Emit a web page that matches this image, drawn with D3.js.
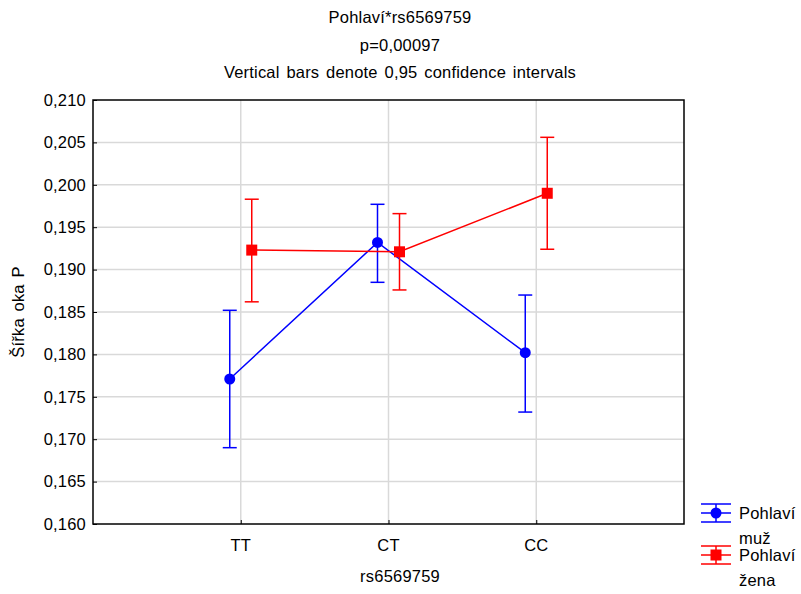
<!DOCTYPE html>
<html><head><meta charset="utf-8">
<script src="https://cdn.jsdelivr.net/npm/d3@7"></script>
<style>body{margin:0;background:#fff}text{font-family:"Liberation Sans",Arial,sans-serif;letter-spacing:0.2px;word-spacing:2px}</style>
</head><body><svg id="c" width="801" height="594"></svg>
<script>
const categories = ["TT","CT","CC"];
const seriesNames = ["Pohlaví muž","Pohlaví žena"];
const muzMean = [0.1771, 0.1932, 0.1802];
const muzLow  = [0.1690, 0.1885, 0.1732];
const muzHigh = [0.1852, 0.1977, 0.1870];
const zenaMean = [0.1923, 0.1921, 0.1990];
const zenaLow  = [0.1862, 0.1876, 0.1924];
const zenaHigh = [0.1983, 0.1966, 0.2056];
const yTicks = [0.160,0.165,0.170,0.175,0.180,0.185,0.190,0.195,0.200,0.205,0.210];
const titleLines = ["Pohlaví*rs6569759","p=0,00097","Vertical bars denote 0,95 confidence intervals"];

const FS = 16.5;
const svg = d3.select("#c");
const L=93,R=684,T=100,B=524;
const x = d3.scaleLinear().domain([0,categories.length+1]).range([L,R]);
const y = d3.scaleLinear().domain([0.160,0.210]).range([B,T]);
const fmt = d => d3.format(".3f")(d).replace(".",",");

// grid
svg.append("g").selectAll("line").data(yTicks.slice(1,-1)).join("line")
  .attr("x1",L).attr("x2",R).attr("y1",d=>y(d)).attr("y2",d=>y(d))
  .attr("stroke","#d9d9d9").attr("stroke-width",1.5);
svg.append("g").selectAll("line").data(categories).join("line")
  .attr("x1",(d,i)=>x(i+1)).attr("x2",(d,i)=>x(i+1)).attr("y1",T).attr("y2",B)
  .attr("stroke","#d9d9d9").attr("stroke-width",1.5);

// axes
const ya = svg.append("g").attr("transform",`translate(${L},0)`)
  .call(d3.axisRight(y).tickValues(yTicks).tickFormat(fmt).tickSize(4));
ya.select(".domain").remove();
ya.selectAll("text").remove();
ya.selectAll("line").attr("stroke","#000");
svg.append("g").selectAll("text").data(yTicks).join("text")
  .attr("x",L-7).attr("y",d=>y(d)).attr("dy","0.35em").attr("text-anchor","end")
  .attr("font-size",FS).text(fmt);
const xa = svg.append("g").attr("transform",`translate(0,${B})`)
  .call(d3.axisTop(x).tickValues([1,2,3]).tickFormat(()=>"" ).tickSize(4));
xa.select(".domain").remove();
xa.selectAll("line").attr("stroke","#000");
svg.append("g").selectAll("text").data(categories).join("text")
  .attr("x",(d,i)=>x(i+1)).attr("y",551).attr("text-anchor","middle")
  .attr("font-size",FS).text(d=>d);
svg.append("rect").attr("x",L).attr("y",T).attr("width",R-L).attr("height",B-T)
  .attr("fill","none").attr("stroke","#000").attr("stroke-width",1.5);

// titles
titleLines.forEach((t,i)=>svg.append("text").attr("x",400).attr("y",23+i*27.5)
  .attr("text-anchor","middle").attr("font-size",FS).text(t));
svg.append("text").attr("x",400).attr("y",582).attr("text-anchor","middle").attr("font-size",FS).text("rs6569759");
svg.append("text").attr("transform",`translate(24,${(T+B)/2}) rotate(-90)`).attr("text-anchor","middle")
  .attr("font-size",FS).text("Šířka oka P");

// series
const series = [
  {mean:muzMean,low:muzLow,high:muzHigh,color:"#0000ff",off:-11,shape:"circle"},
  {mean:zenaMean,low:zenaLow,high:zenaHigh,color:"#ff0000",off:11,shape:"square"}
];
series.forEach(s=>{
  const g = svg.append("g");
  const px = i => x(i+1)+s.off;
  g.append("path").datum(s.mean).attr("fill","none").attr("stroke",s.color).attr("stroke-width",1.5)
    .attr("d",d3.line().x((d,i)=>px(i)).y(d=>y(d)));
  g.selectAll(".v").data(s.mean).join("line").attr("stroke",s.color).attr("stroke-width",1.5)
    .attr("x1",(d,i)=>px(i)).attr("x2",(d,i)=>px(i)).attr("y1",(d,i)=>y(s.low[i])).attr("y2",(d,i)=>y(s.high[i]));
  [s.low,s.high].forEach(arr=>{
    g.selectAll(null).data(arr).join("line").attr("stroke",s.color).attr("stroke-width",1.5)
      .attr("x1",(d,i)=>px(i)-7).attr("x2",(d,i)=>px(i)+7).attr("y1",d=>y(d)).attr("y2",d=>y(d));
  });
  if(s.shape==="circle"){
    g.selectAll("circle").data(s.mean).join("circle").attr("cx",(d,i)=>px(i)).attr("cy",d=>y(d)).attr("r",5.5).attr("fill",s.color);
  } else {
    g.selectAll("rect").data(s.mean).join("rect").attr("x",(d,i)=>px(i)-5.5).attr("y",d=>y(d)-5.5)
      .attr("width",11).attr("height",11).attr("fill",s.color);
  }
});

// legend
const legY=[513,555];
seriesNames.forEach((n,i)=>{
  const s=series[i], cy=legY[i], g=svg.append("g");
  g.append("line").attr("x1",701).attr("x2",731).attr("y1",cy).attr("y2",cy).attr("stroke",s.color).attr("stroke-width",1.5);
  g.append("line").attr("x1",701).attr("x2",731).attr("y1",cy-9).attr("y2",cy-9).attr("stroke",s.color).attr("stroke-width",1.5);
  g.append("line").attr("x1",701).attr("x2",731).attr("y1",cy+9).attr("y2",cy+9).attr("stroke",s.color).attr("stroke-width",1.5);
  g.append("line").attr("x1",716).attr("x2",716).attr("y1",cy-9).attr("y2",cy+9).attr("stroke",s.color).attr("stroke-width",1.5);
  if(i===0) g.append("circle").attr("cx",716).attr("cy",cy).attr("r",5.5).attr("fill",s.color);
  else g.append("rect").attr("x",710.5).attr("y",cy-5.5).attr("width",11).attr("height",11).attr("fill",s.color);
  const parts=n.split(" ");
  g.append("text").attr("x",739).attr("y",cy+6).attr("font-size",FS).text(parts[0]);
  g.append("text").attr("x",739).attr("y",cy+31).attr("font-size",FS).text(parts[1]);
});
</script></body></html>
